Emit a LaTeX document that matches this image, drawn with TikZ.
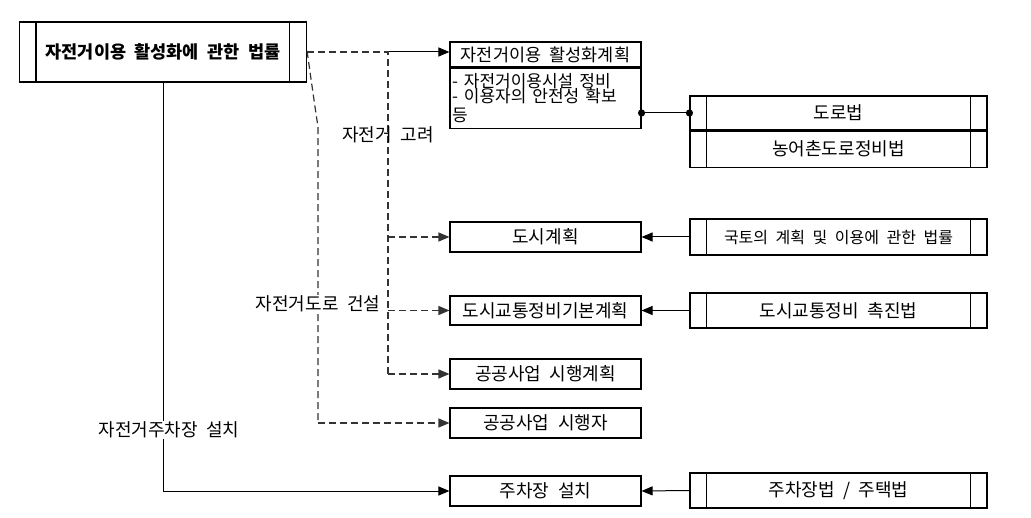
\documentclass[tikz,border=0pt]{standalone}
\usepackage{fontspec}
\setmainfont{Noto Sans CJK KR}[WordSpace=2.1]
\usetikzlibrary{arrows.meta}
\begin{document}
\begin{tikzpicture}[x=1pt,y=-1pt,
  every node/.style={font=\fontsize{18}{19}\selectfont, inner sep=0pt},
  box/.style={draw, line width=1.1pt, minimum width=191pt, minimum height=30pt},
  lawbox/.style={draw, line width=1.1pt, minimum width=297pt, minimum height=35pt},
  solidline/.style={line width=1pt},
  dashline/.style={line width=1.2pt, black!80, dash pattern=on 7pt off 4pt},
  tip/.style={-{Triangle[length=11pt,width=9pt]}},
  lbl/.style={fill=white, inner sep=1pt}
]
\useasboundingbox (0,0) rectangle (1031,518);

% main law box
\node[draw, line width=1.1pt, minimum width=287pt, minimum height=60pt, font=\fontsize{17.5}{18}\selectfont\bfseries] (main) at (163,52) {자전거이용 활성화에 관한 법률};
\draw[line width=1.1pt] ([xshift=17pt]main.north west) -- ([xshift=17pt]main.south west);
\draw[line width=1.1pt] ([xshift=-18pt]main.north east) -- ([xshift=-18pt]main.south east);

% plan box
\node[box, minimum height=25pt, font=\fontsize{17.5}{18}\selectfont] (planh) at (545.5,54.5) {자전거이용 활성화계획};
\node[box, minimum height=60pt, align=left, anchor=north, text width=187pt] (planb) at (planh.south) {\fontsize{17}{15.8}\selectfont - 자전거이용시설 정비\\- 이용자의 안전성 확보\\등};

% road law double box
\node[lawbox, minimum height=34pt] (roadlaw) at (838.5,113) {도로법};
\node[lawbox, minimum height=36pt, anchor=north] (farmlaw) at (roadlaw.south) {농어촌도로정비법};
\draw[line width=1.1pt] ([xshift=17pt]roadlaw.north west) -- ([xshift=17pt]farmlaw.south west);
\draw[line width=1.1pt] ([xshift=-17pt]roadlaw.north east) -- ([xshift=-17pt]farmlaw.south east);

% plan boxes
\node[box] (city) at (545.5,237) {도시계획};
\node[box, minimum height=29pt] (traffic) at (545.5,310.5) {도시교통정비기본계획};
\node[box] (pubplan) at (545.5,374) {공공사업 시행계획};
\node[box] (pubexec) at (545.5,423) {공공사업 시행자};
\node[box] (parking) at (545.5,491) {주차장 설치};

% law boxes
\node[lawbox, minimum height=36pt, font=\fontsize{16}{17}\selectfont] (landlaw) at (838.5,237) {국토의 계획 및 이용에 관한 법률};
\node[lawbox] (trafficlaw) at (838.5,310.5) {도시교통정비 촉진법};
\node[lawbox] (parkinglaw) at (838.5,490.5) {주차장법 / 주택법};
\foreach \n in {landlaw,trafficlaw,parkinglaw}{
  \draw[line width=1.1pt] ([xshift=17pt]\n.north west) -- ([xshift=17pt]\n.south west);
  \draw[line width=1.1pt] ([xshift=-17pt]\n.north east) -- ([xshift=-17pt]\n.south east);
}

% coordinates
\coordinate (c1) at (388,52);
\coordinate (d1) at (318,127);

% solid arrow to plan
\draw[solidline, tip] (c1) -- (c1 -| planh.west);

% dashed network (right column)
\draw[dashline] (main.east) -- (c1) -- (c1 |- pubplan.west);
\draw[dashline, tip] (c1 |- pubplan.west) -- (pubplan.west);
\draw[dashline, tip] (c1 |- city.west) -- (city.west);
\draw[dashline, tip] (c1 |- traffic.west) -- (traffic.west);

% dashed network (left column)
\draw[dashline] ([yshift=1pt]main.east) .. controls (314,100) .. (d1) -- (d1 |- pubexec.west);
\draw[dashline, tip] (d1 |- pubexec.west) -- (pubexec.west);

% solid line to parking
\draw[solidline] (main.south) -- (main.south |- parking.west);
\draw[solidline, tip] (main.south |- parking.west) -- (parking.west);

% law arrows
\draw[solidline, tip] (landlaw.west) -- (city.east);
\draw[solidline, tip] (trafficlaw.west) -- (traffic.east);
\draw[solidline, tip] (parkinglaw.west) -- (parking.east);

% dot connector
\coordinate (p1) at (planb.east |- roadlaw.west);
\draw[solidline] (p1) -- (roadlaw.west);
\fill (p1) circle (3.6pt);
\fill (roadlaw.west) circle (3.6pt);

% labels
\node (lbl1) at (388,135) {자전거 고려};
\node[lbl] (lbl2) at (318,304) {자전거도로 건설};
\node[lbl] (lbl3) at (169,430) {자전거주차장 설치};
\end{tikzpicture}
\end{document}
